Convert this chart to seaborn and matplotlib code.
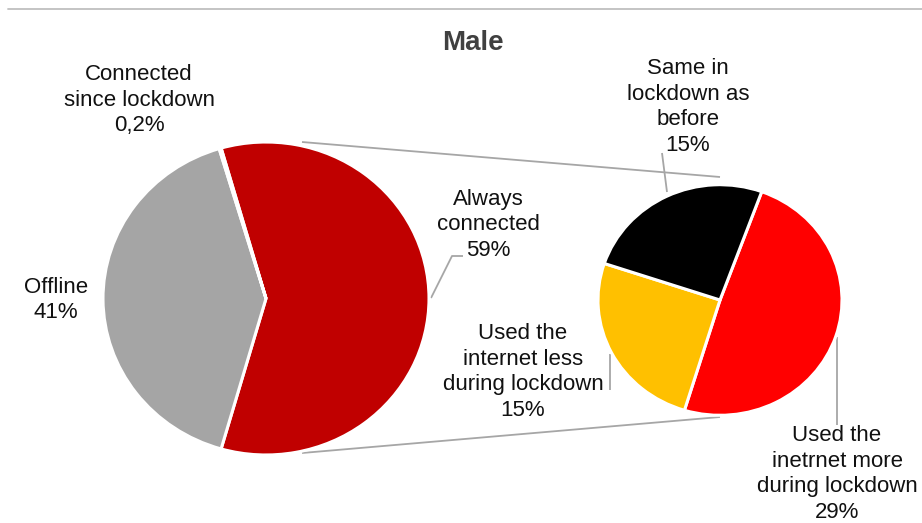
import matplotlib
matplotlib.use("Agg")
import matplotlib.pyplot as plt
from matplotlib.transforms import Affine2D
import seaborn as sns

# ---- data -------------------------------------------------------------
title = "Male"

main_labels = ["Always\nconnected", "Offline", "Connected\nsince lockdown"]
main_values = [59, 41, 0.2]
main_colors = ["#C00000", "#A5A5A5", "#D9D9D9"]

detail_labels = ["Used the\ninetrnet more\nduring lockdown",
                 "Used the\ninternet less\nduring lockdown",
                 "Same in\nlockdown as\nbefore"]
detail_values = [29, 15, 15]
detail_colors = ["#FF0000", "#FFC000", "#000000"]

# ---- canvas (1 data unit = 1 pixel, y measured from the top) ----------
W, H = 922, 523
sns.set_theme(style="white")
plt.rcParams["font.family"] = ["Liberation Sans", "DejaVu Sans"]

fig = plt.figure(figsize=(W / 100, H / 100), dpi=100)
ax = fig.add_axes([0, 0, 1, 1])


def Y(y):
    return H - y


def pct(v):
    s = f"{v:.0f}" if float(v).is_integer() else f"{v:g}".replace(".", ",")
    return s + "%"


def squashed_pie(values, colors, cx, cy, r, k, start):
    wedges, _ = ax.pie(values, colors=colors, center=(cx, Y(cy)), radius=r,
                       startangle=start, counterclock=False,
                       wedgeprops=dict(edgecolor="white", linewidth=2.2))
    squash = (Affine2D().translate(-cx, -Y(cy)).scale(1, k)
              .translate(cx, Y(cy)))
    for w in wedges:
        w.set_transform(squash + ax.transData)
    return wedges


# main pie: the broken-out slice is centred on the right-hand side
total = sum(main_values)
span = main_values[0] / total * 360
squashed_pie(main_values, main_colors, 266, 298.5, 163, 0.96, span / 2)

# secondary pie breaking down the "Always connected" share
squashed_pie(detail_values, detail_colors, 720, 300, 122, 0.945, 70)

ax.set_aspect("auto")
ax.set_xlim(0, W)
ax.set_ylim(0, H)
ax.axis("off")

line_kw = dict(color="#A6A6A6", lw=1.3, solid_capstyle="butt", zorder=0)

# frame rule at the top
ax.plot([8, W], [Y(9), Y(9)], color="#BFBFBF", lw=1.3)

# connectors between the two pies
ax.plot([302, 720], [Y(142), Y(177)], **line_kw)
ax.plot([302, 720], [Y(453), Y(417)], **line_kw)

# leader lines
ax.plot([463, 452, 431], [Y(256), Y(256), Y(298)], **line_kw)
ax.plot([662, 667], [Y(153), Y(192)], **line_kw)
ax.plot([610, 610], [Y(390), Y(354)], **line_kw)
ax.plot([837, 837], [Y(337), Y(425)], **line_kw)

txt = dict(ha="center", va="center", fontsize=16, color="#111111",
           linespacing=1.3)

ax.text(473, Y(43), title, ha="center", va="center", fontsize=20,
        fontweight="bold", color="#404040")

main_pos = [(488, 225), (56, 300), (139, 100)]
for lab, v, (x, y) in zip(main_labels, main_values, main_pos):
    ax.text(x, Y(y), f"{lab}\n{pct(v)}", **txt)

detail_pos = [(837, 474), (523, 372), (688, 107)]
for lab, v, (x, y) in zip(detail_labels, detail_values, detail_pos):
    ax.text(x, Y(y), f"{lab}\n{pct(v)}", **txt)

fig.savefig("out.png", dpi=100, facecolor="white")
